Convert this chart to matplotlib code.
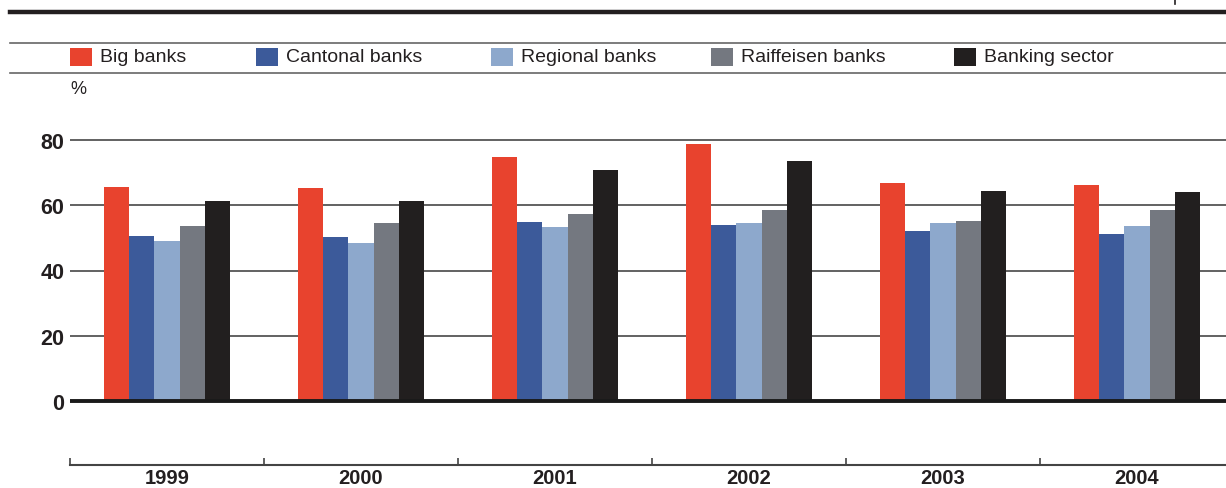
import matplotlib
matplotlib.use('Agg')
import matplotlib.pyplot as plt
import numpy as np
from matplotlib.patches import Rectangle
from matplotlib.lines import Line2D

# === Data ===
years = ['1999', '2000', '2001', '2002', '2003', '2004']
series = ['Big banks', 'Cantonal banks', 'Regional banks', 'Raiffeisen banks', 'Banking sector']
big_banks = [65.6, 65.4, 74.9, 78.9, 66.7, 66.1]
cantonal_banks = [50.7, 50.3, 54.8, 54.0, 52.0, 51.3]
regional_banks = [49.1, 48.4, 53.2, 54.7, 54.7, 53.5]
raiffeisen_banks = [53.6, 54.7, 57.3, 58.4, 55.3, 58.5]
banking_sector = [61.3, 61.2, 70.7, 73.7, 64.5, 64.1]
yticks = [0, 20, 40, 60, 80]

# === Style ===
COLORS = ['#E8432E', '#3C5A9A', '#8DA8CC', '#747880', '#221F1F']
W, H = 1226, 489
plt.rcParams['font.family'] = ['Liberation Sans', 'DejaVu Sans']

fig = plt.figure(figsize=(W / 100, H / 100), dpi=100)
fig.patch.set_facecolor('white')


def fx(px):
    return px / W


def fy(py):
    return 1 - py / H


# axes: left at x=70 px, bottom (category axis) at y=466 px, top at y=100 px
ax_l, ax_b, ax_t = 70, 466, 100
ax = fig.add_axes([fx(ax_l), fy(ax_b), fx(W - ax_l), (ax_b - ax_t) / H])

x = np.arange(len(years))
bw = 0.13
values = [big_banks, cantonal_banks, regional_banks, raiffeisen_banks, banking_sector]
for i, (vals, col) in enumerate(zip(values, COLORS)):
    ax.bar(x + (i - 2) * bw, vals, bw, color=col, linewidth=0, zorder=3)

# y scale: 0 at 402 px, 80 at 141 px
ppu = (402 - 141) / 80
ax.set_ylim(-(ax_b - 402) / ppu, (402 - ax_t) / ppu)
ax.set_xlim(-0.5, -0.5 + (W - ax_l) / 194)

for v in yticks[1:]:
    ax.axhline(v, color='#555555', lw=1.3, zorder=1)
ax.axhline(0, color='#1a1a1a', lw=2.8, zorder=4)

for side in ['top', 'right', 'left']:
    ax.spines[side].set_visible(False)
ax.spines['bottom'].set_color('#444444')
ax.spines['bottom'].set_linewidth(1.5)

ax.set_yticks(yticks)
ax.set_yticklabels([str(v) for v in yticks], fontsize=15.5, fontweight='bold', color='#231F20')
ax.tick_params(axis='y', length=0, pad=4)

ax.set_xticks(np.arange(-0.5, len(years) - 0.5, 1.0))
ax.set_xticklabels([])
ax.tick_params(axis='x', which='major', direction='in', length=5, width=1.2, color='#444444')
ax.set_xticks(x, minor=True)
ax.set_xticklabels(years, minor=True, fontsize=14.5, fontweight='bold', color='#231F20')
ax.tick_params(axis='x', which='minor', length=0, pad=2)

# === Header rules ===
fig.add_artist(Line2D([fx(10), 1], [fy(12.5), fy(12.5)], color='#231F20', lw=3.2))
fig.add_artist(Line2D([fx(1175), fx(1175)], [fy(0), fy(5)], color='#231F20', lw=1.2))
fig.add_artist(Line2D([fx(10), 1], [fy(44), fy(44)], color='#666666', lw=1.2))
fig.add_artist(Line2D([fx(10), 1], [fy(74), fy(74)], color='#666666', lw=1.2))

# === Legend ===
leg_x = [70, 256, 491, 711, 954]
for lx, name, col in zip(leg_x, series, COLORS):
    fig.add_artist(Rectangle((fx(lx), fy(67)), fx(22), 18 / H, color=col, lw=0))
    fig.text(fx(lx + 30), fy(58), name, fontsize=14, color='#231F20', va='center', ha='left')

fig.text(fx(70), fy(89), '%', fontsize=13, color='#231F20', va='center', ha='left')

fig.savefig('out.png', dpi=100, facecolor='white')
